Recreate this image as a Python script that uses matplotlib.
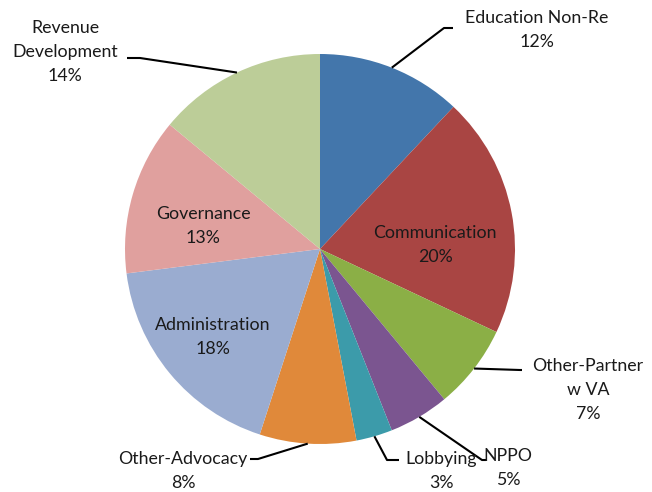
import matplotlib.pyplot as plt
import numpy as np

plt.rcParams['font.family'] = ['Lato', 'DejaVu Sans']

# slices, clockwise from 12 o'clock
labels = ['Education Non-Re', 'Communication', 'Other-Partner\nw VA', 'NPPO', 'Lobbying',
          'Other-Advocacy', 'Administration', 'Governance', 'Revenue\nDevelopment']
shares = [12, 20, 7, 5, 3, 8, 18, 13, 14]
colors = ['#4376AB', '#A94543', '#8BAF46', '#7B5590', '#3C9BAA',
          '#E0893A', '#9AACD0', '#E0A09E', '#BCCD98']

# label layout (pixel coords, y up) -- None for elbow means label sits inside the slice
label_pos = [(537, 462), (435, 247), (588, 102), (508, 24), (441, 21),
             (183, 21), (213, 155), (203, 266), (65, 440)]
elbow = [(444, 464), None, (520, 122), (482, 32), (387, 32),
         (258, 33), None, None, (140, 434)]
line_end = [(453, 464), None, (522, 122), (486, 32), (399, 32),
            (250, 33), None, None, (127, 434)]

cx, cy, r = 320, 243, 195

fig = plt.figure(figsize=(6.52, 4.92), dpi=100)
ax = fig.add_axes([0, 0, 1, 1])
ax.set_xlim(0, 652)
ax.set_ylim(0, 492)
ax.set_aspect('equal')
ax.axis('off')

wedges, _ = ax.pie(shares, colors=colors, startangle=90, counterclock=False,
                   center=(cx, cy), radius=r, wedgeprops=dict(linewidth=0))
ax.set_xlim(0, 652)
ax.set_ylim(0, 492)

for i, w in enumerate(wedges):
    txt = labels[i] + '\n' + str(shares[i]) + '%'
    ax.text(label_pos[i][0], label_pos[i][1], txt, ha='center', va='center',
            fontsize=12.8, color='#1a1a1a', linespacing=1.62)
    if elbow[i] is None:
        continue
    mid = np.deg2rad((w.theta1 + w.theta2) / 2)
    ax0 = cx + r * np.cos(mid)
    ay0 = cy + r * np.sin(mid)
    ax.plot([ax0, elbow[i][0], line_end[i][0]], [ay0, elbow[i][1], line_end[i][1]],
            color='black', lw=1.5, solid_capstyle='butt')

fig.savefig('out.png', dpi=100)
